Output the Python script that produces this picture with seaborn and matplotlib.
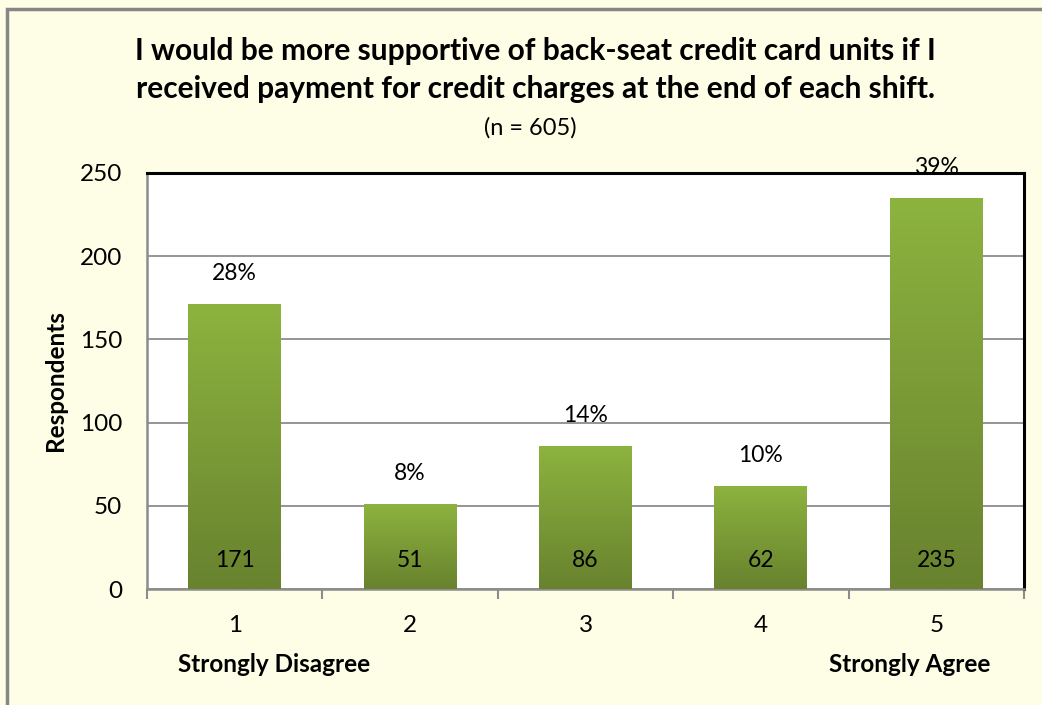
import numpy as np
import pandas as pd
import matplotlib
matplotlib.use("Agg")
import matplotlib.pyplot as plt
import seaborn as sns
from matplotlib.colors import LinearSegmentedColormap
from matplotlib.patches import Rectangle

# dados do gráfico
categorias = ["1", "2", "3", "4", "5"]
respondentes = [171, 51, 86, 62, 235]
percentuais = ["28%", "8%", "14%", "10%", "39%"]
titulo = ("I would be more supportive of back-seat credit card units if I\n"
          "received payment for credit charges at the end of each shift.")
subtitulo = "(n = 605)"

df = pd.DataFrame({"cat": categorias, "n": respondentes})

sns.set_theme(style="white")
plt.rcParams["font.family"] = ["Lato", "DejaVu Sans"]
plt.rcParams["text.color"] = "black"
plt.rcParams["xtick.color"] = "black"
plt.rcParams["ytick.color"] = "black"
plt.rcParams["axes.labelcolor"] = "black"

fundo = "#FEFEE6"
fig = plt.figure(figsize=(10.42, 7.05), dpi=100, facecolor=fundo)
ax = fig.add_axes([147 / 1042, 1 - 589 / 705, (1024 - 147) / 1042, (589 - 173) / 705])
ax.set_facecolor("white")

# moldura externa
fig.patches.append(Rectangle((7 / 1042, -0.05), 1.1, 1 - 9 / 705 + 0.05, transform=fig.transFigure,
                             fill=False, edgecolor="#868686", linewidth=2.5, zorder=0))

sns.barplot(data=df, x="cat", y="n", color="#7A9B35", width=0.53, ax=ax, zorder=3)

# gradiente vertical em cada barra
cmap = LinearSegmentedColormap.from_list("verde", ["#68822E", "#8DB33F"])
grad = np.linspace(0, 1, 256).reshape(-1, 1)
for p in ax.patches:
    x0, w, h = p.get_x(), p.get_width(), p.get_height()
    im = ax.imshow(grad, cmap=cmap, origin="lower", aspect="auto",
                   extent=[x0, x0 + w, 0, h], zorder=4)
    im.set_clip_path(p)
    p.set_alpha(0)

ax.set_xlim(-0.5, len(categorias) - 0.5)
ax.set_ylim(0, 250)
ax.set_yticks([0, 50, 100, 150, 200, 250])
ax.yaxis.grid(True, color="#8C8C8C", linewidth=1.3, zorder=1)
ax.set_axisbelow(True)

for i, (v, pc) in enumerate(zip(respondentes, percentuais)):
    ax.text(i, v + 12, pc, ha="center", va="bottom", fontsize=16.5, zorder=6)
    ax.text(i, 17, str(v), ha="center", va="center", fontsize=16.5, zorder=6)

for lado in ["left", "bottom"]:
    ax.spines[lado].set_color("#8C8C8C")
    ax.spines[lado].set_linewidth(1.8)
for lado in ["top", "right"]:
    ax.spines[lado].set_color("black")
    ax.spines[lado].set_linewidth(2.2)
    ax.spines[lado].set_visible(True)

ax.set_xticks(np.arange(-0.5, len(categorias), 1), minor=True)
ax.tick_params(axis="x", which="minor", bottom=True, length=7, width=1.5, color="#8C8C8C")
ax.tick_params(axis="x", which="major", bottom=False, labelsize=17.5, pad=13)
ax.tick_params(axis="y", left=False, labelsize=17.5, pad=12)

ax.set_xlabel("")
ax.set_ylabel("Respondents", fontsize=17.5, fontweight="bold", labelpad=9)

fig.text(535 / 1042, 1 - 70 / 705, titulo, ha="center", va="center", fontsize=21.5,
         fontweight="bold", linespacing=1.4)
fig.text(530 / 1042, 1 - 128 / 705, subtitulo, ha="center", va="center", fontsize=17)
fig.text(274 / 1042, 1 - 664 / 705, "Strongly Disagree", ha="center", va="center",
         fontsize=17.5, fontweight="bold")
fig.text(910 / 1042, 1 - 664 / 705, "Strongly Agree", ha="center", va="center",
         fontsize=17.5, fontweight="bold")

fig.savefig("out.png", dpi=100, facecolor=fundo)
